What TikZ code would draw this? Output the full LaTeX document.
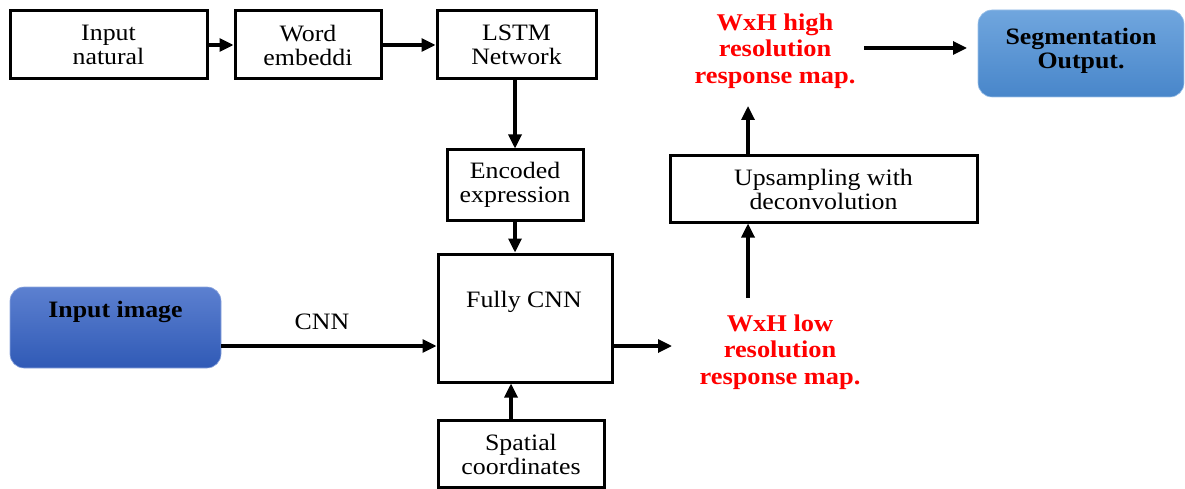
\documentclass[tikz,border=0pt]{standalone}
\usepackage{fontspec}
\setmainfont{Liberation Serif}[FakeStretch=1.1]
\usetikzlibrary{arrows.meta}
\definecolor{imgtop}{RGB}{92,128,208}
\definecolor{imgbot}{RGB}{48,90,182}
\definecolor{segtop}{RGB}{112,166,222}
\definecolor{segbot}{RGB}{72,134,202}
\tikzset{
  blk/.style={draw=black, line width=3pt, fill=white, align=center, inner sep=0pt},
  txt/.style={align=center, inner sep=0pt, font=\fontsize{23.5}{24}\selectfont},
  redtxt/.style={txt, text=red, font=\fontsize{24}{26.5}\selectfont\bfseries},
  arr/.style={line width=3.2pt, -{Triangle[length=14pt,width=13pt]}},
}
\begin{document}
\begin{tikzpicture}[x=1pt,y=-1pt]
\useasboundingbox (0,0) rectangle (1185,489);
% top row
\node[blk, minimum width=197pt, minimum height=68pt, txt] (in) at (108.5,45) {Input\\natural};
\node[blk, minimum width=146pt, minimum height=68pt, txt] (we) at (308,45) {Word\\embeddi};
\node[blk, minimum width=159pt, minimum height=68pt, txt] (lstm) at (516.5,45) {LSTM\\Network};
\node[blk, minimum width=136pt, minimum height=70pt, txt] (enc) at (515,185) {Encoded\\expression};
\node[blk, minimum width=174pt, minimum height=128pt] (fcnn) at (525,318) {};
\node[txt] (fcnnt) at (524,302) {Fully CNN};
\node[blk, minimum width=166pt, minimum height=67pt, txt] (sp) at (521,454) {Spatial\\coordinates};
\node[blk, minimum width=307pt, minimum height=66pt, txt] (up) at (823.5,189) {Upsampling with\\deconvolution};
% rounded shaded boxes
\node[rounded corners=14pt, top color=imgtop, bottom color=imgbot, draw=imgtop!70!white, line width=0.6pt, minimum width=211pt, minimum height=81pt] (img) at (115.5,327.5) {};
\node[txt, font=\fontsize{23.5}{24}\selectfont\bfseries] (imgt) at (115.5,312) {Input image};
\node[rounded corners=14pt, top color=segtop, bottom color=segbot, draw=segtop!70!white, line width=0.6pt, minimum width=206pt, minimum height=87pt] (seg) at (1081,53.5) {};
\node[txt, font=\fontsize{23.5}{24}\selectfont\bfseries] (segt) at (1081,51) {Segmentation\\Output.};
% red texts
\node[redtxt] (hi) at (775,51) {WxH high\\resolution\\response map.};
\node[redtxt] (lo) at (780,352) {WxH low\\resolution\\response map.};
\node[txt] (cnn) at (322,322) {CNN};
% connectors
\coordinate (fout) at (672,346);
\coordinate (upin) at (748,298);
\coordinate (hiin) at (748,106);
\coordinate (hiout) at (864,48);
\coordinate (segin) at (967,48);
\draw[arr] (in.east) -- (we.west);
\draw[arr] (we.east) -- (lstm.west);
\draw[arr] (lstm.south -| enc.north) -- (enc.north);
\draw[arr] (enc.south) -- (enc.south |- fcnn.north);
\draw[arr] (img.east |- fout) -- (fcnn.west |- fout);
\draw[arr] (fcnn.east |- fout) -- (fout);
\draw[arr] (sp.north -| 511,0) -- (fcnn.south -| 511,0);
\draw[arr] (upin) -- (upin |- up.south);
\draw[arr] (up.north -| hiin) -- (hiin);
\draw[arr] (hiout) -- (segin);
\end{tikzpicture}
\end{document}
